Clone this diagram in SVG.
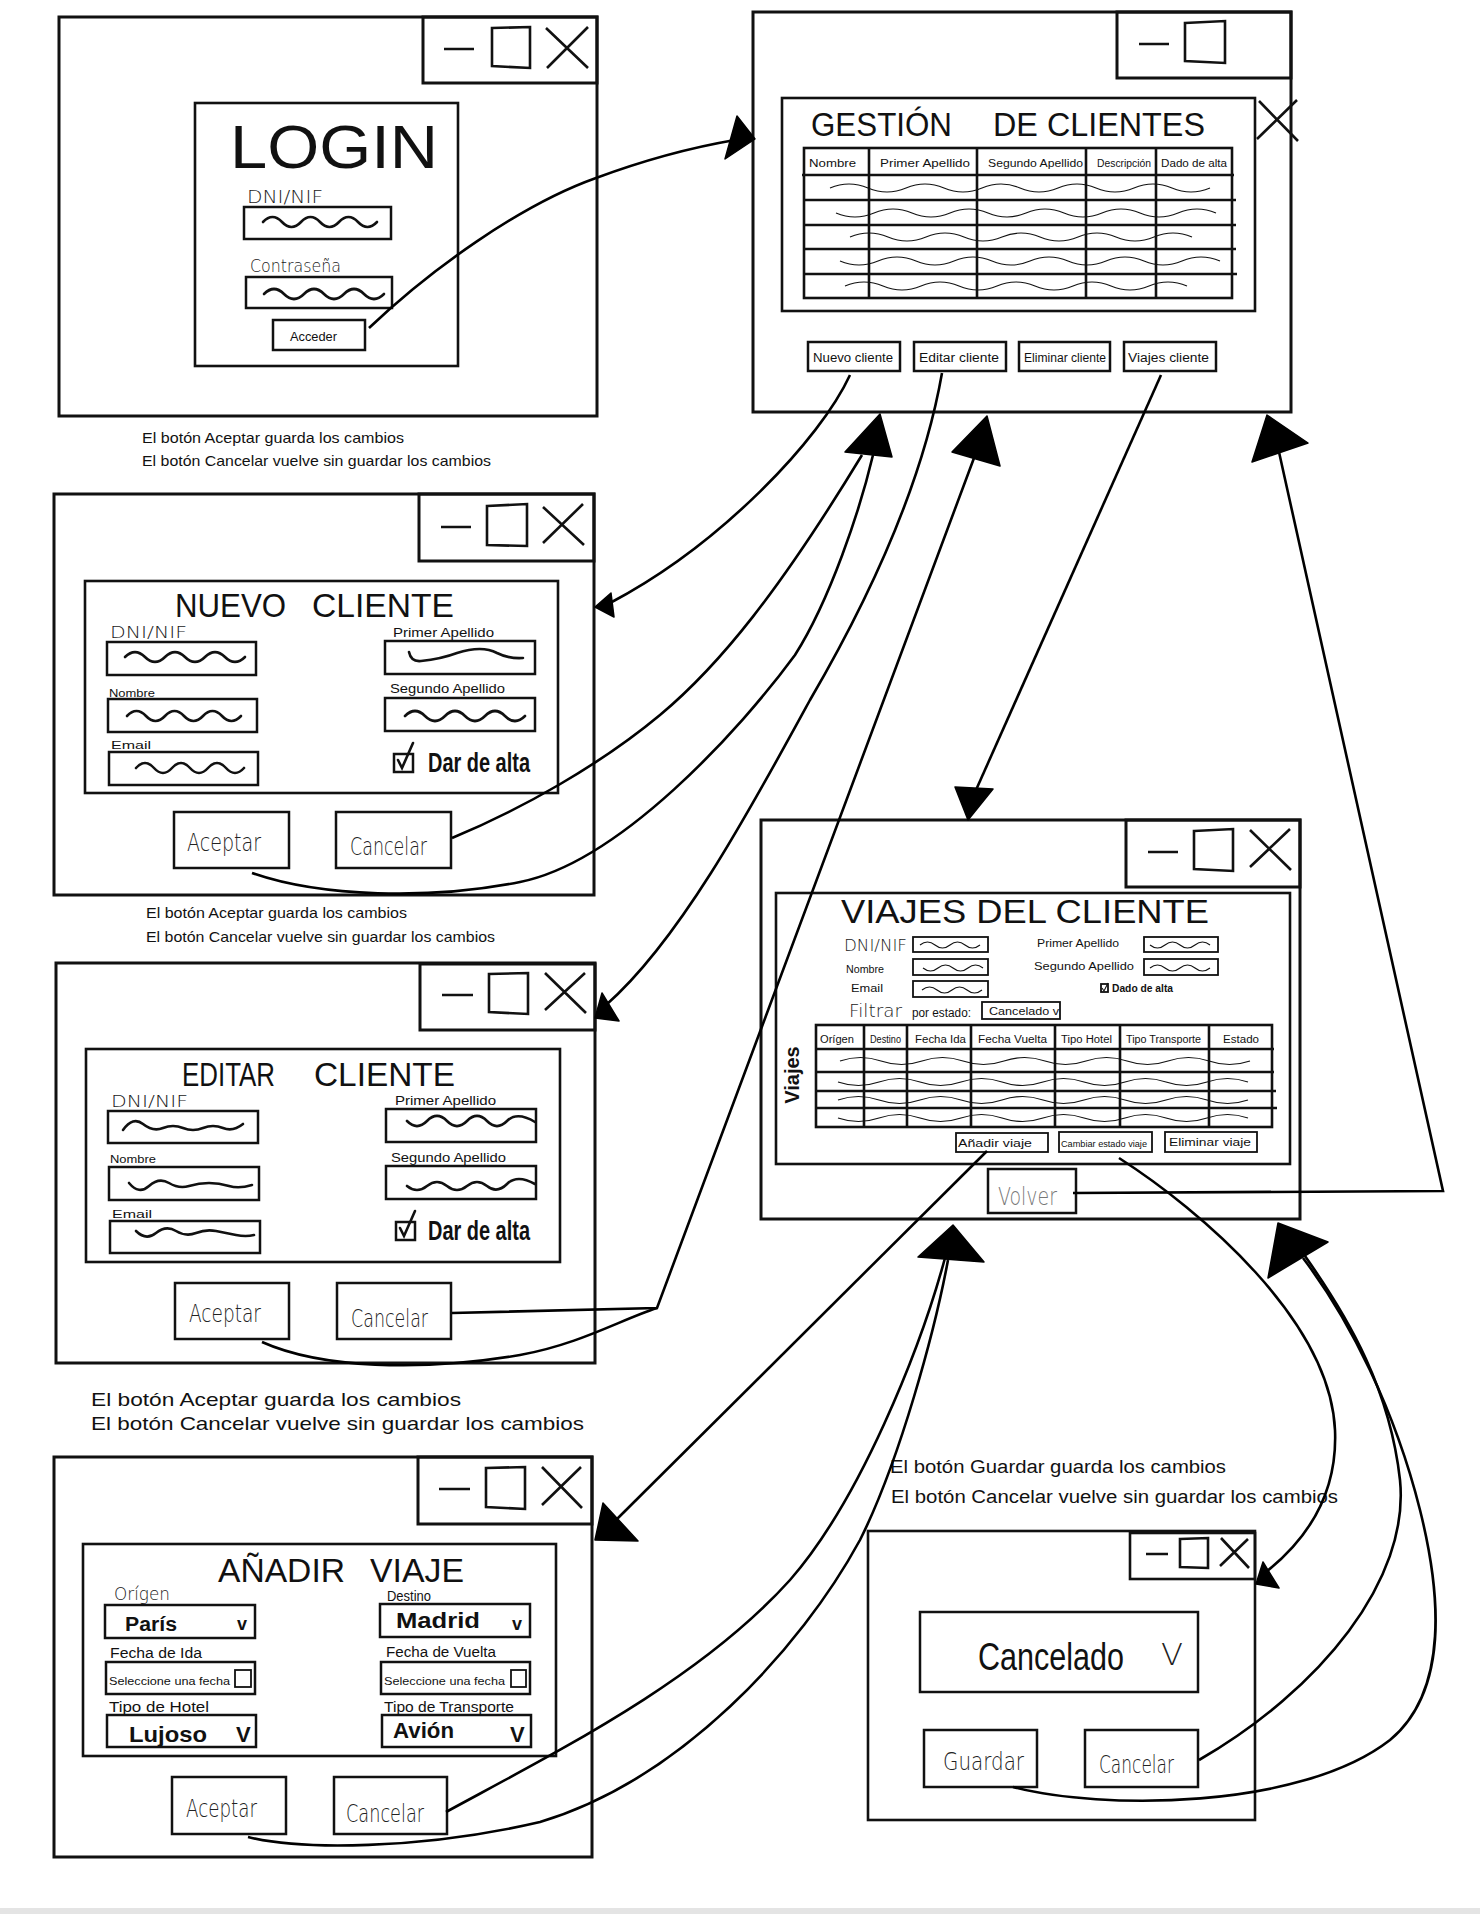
<svg xmlns="http://www.w3.org/2000/svg" width="1480" height="1914" viewBox="0 0 1480 1914">
<style>
.bg{fill:#fff}
.win{fill:none;stroke:#111;stroke-width:3}
.box{fill:none;stroke:#111;stroke-width:2.6}
.fld{fill:none;stroke:#111;stroke-width:2.5}
.fs{fill:none;stroke:#111;stroke-width:1.8}
.ctl{fill:none;stroke:#111;stroke-width:2.6}
.sq{fill:none;stroke:#111;stroke-width:2.6;stroke-linecap:round}
.sqt{fill:none;stroke:#111;stroke-width:1.1}
.grid{fill:none;stroke:#111;stroke-width:2.6}
.cn{fill:none;stroke:#000;stroke-width:2.6}
.ah{fill:#000;stroke:#000;stroke-width:1.5;stroke-linejoin:round}
text{font-family:"Liberation Sans",Arial,sans-serif;fill:#111}
.ttl{font-size:33px}
.h{font-family:"DejaVu Sans",sans-serif;font-weight:200;fill:#222}
.b{font-weight:bold}
</style>
<rect class="bg" width="1480" height="1914"/>
<rect x="0" y="1908" width="1480" height="6" fill="#e4e4e4"/>

<g id="login">
<rect class="win" x="59" y="17" width="538" height="399"/>
<rect class="win" x="423" y="17" width="174" height="66"/>
<path class="ctl" d="M444,49 H474 M492,28 L530,27 L530,68 L492,66 Z M546,28 L588,68 M588,27 L547,68"/>
<rect class="box" x="195" y="103" width="263" height="263"/>
<text x="230" y="168" font-size="62" textLength="208" lengthAdjust="spacingAndGlyphs">LOGIN</text>
<text class="h" x="247" y="203" font-size="17" textLength="76" lengthAdjust="spacingAndGlyphs">DNI/NIF</text>
<rect class="fld" x="244" y="207" width="147" height="32"/>
<path class="sq" d="M263,222 q9.5,-10 19,0 t19,0 t19,0 t19,0 t19,0 t19,0"/>
<text class="h" x="250" y="272" font-size="17" textLength="91" lengthAdjust="spacingAndGlyphs">Contraseña</text>
<rect class="fld" x="246" y="277" width="146" height="31"/>
<path class="sq" d="M264,294 q10,-10 20,0 t20,0 t20,0 t20,0 t20,0 t20,0"/>
<rect class="fld" x="273" y="320" width="92" height="30"/>
<text x="290" y="341" font-size="13" textLength="47" lengthAdjust="spacingAndGlyphs">Acceder</text>
<text x="142" y="443" font-size="15" textLength="262" lengthAdjust="spacingAndGlyphs">El botón Aceptar guarda los cambios</text>
<text x="142" y="466" font-size="15" textLength="349" lengthAdjust="spacingAndGlyphs">El botón Cancelar vuelve sin guardar los cambios</text>
</g>

<g id="gestion">
<rect class="win" x="753" y="12" width="538" height="400"/>
<rect class="win" x="1117" y="12" width="174" height="66"/>
<path class="ctl" d="M1139,44 H1169 M1185,23 L1225,21 L1225,63 L1185,61 Z M1259,101 L1298,141 M1297,100 L1257,139"/>
<rect class="box" x="782" y="98" width="473" height="213"/>
<text class="ttl" x="811" y="136" font-size="35" textLength="141" lengthAdjust="spacingAndGlyphs">GESTIÓN</text>
<text class="ttl" x="993" y="136" font-size="35" textLength="212" lengthAdjust="spacingAndGlyphs">DE CLIENTES</text>
<rect class="grid" x="804" y="148" width="428" height="150"/>
<path class="grid" d="M869,148 V298 M977,148 V298 M1086,148 V298 M1156,148 V298 M802,175 H1234 M804,200 H1236 M804,225 H1236 M804,249 H1236 M804,274 H1237"/>
<g font-size="11">
<text x="809" y="167" textLength="47" lengthAdjust="spacingAndGlyphs">Nombre</text>
<text x="880" y="167" textLength="90" lengthAdjust="spacingAndGlyphs">Primer  Apellido</text>
<text x="988" y="167" textLength="95" lengthAdjust="spacingAndGlyphs">Segundo Apellido</text>
<text x="1097" y="167" textLength="54" lengthAdjust="spacingAndGlyphs">Descripción</text>
<text x="1161" y="167" textLength="66" lengthAdjust="spacingAndGlyphs">Dado de alta</text>
</g>
<path class="sqt" d="M830,188 q19,-8 38,0 t38,0 t38,0 t38,0 t38,0 t38,0 t38,0 t38,0 t38,0 t38,0"/>
<path class="sqt" d="M836,213 q19,8 38,0 t38,0 t38,0 t38,0 t38,0 t38,0 t38,0 t38,0 t38,0 t38,0"/>
<path class="sqt" d="M850,237 q19,-8 38,0 t38,0 t38,0 t38,0 t38,0 t38,0 t38,0 t38,0 t38,0"/>
<path class="sqt" d="M840,261 q19,8 38,0 t38,0 t38,0 t38,0 t38,0 t38,0 t38,0 t38,0 t38,0 t38,0"/>
<path class="sqt" d="M845,286 q19,-8 38,0 t38,0 t38,0 t38,0 t38,0 t38,0 t38,0 t38,0 t38,0"/>
<rect class="fld" x="808" y="342" width="92" height="29"/>
<rect class="fld" x="914" y="342" width="92" height="29"/>
<rect class="fld" x="1019" y="342" width="91" height="29"/>
<rect class="fld" x="1124" y="342" width="92" height="29"/>
<g font-size="12">
<text x="813" y="362" textLength="80" lengthAdjust="spacingAndGlyphs">Nuevo cliente</text>
<text x="919" y="362" textLength="80" lengthAdjust="spacingAndGlyphs">Editar cliente</text>
<text x="1024" y="362" textLength="82" lengthAdjust="spacingAndGlyphs">Eliminar cliente</text>
<text x="1128" y="362" textLength="81" lengthAdjust="spacingAndGlyphs">Viajes cliente</text>
</g>
</g>

<g id="nuevo-cliente">
<rect class="win" x="54" y="494" width="540" height="401"/>
<rect class="win" x="419" y="494" width="175" height="67"/>
<path class="ctl" d="M441,527 H471 M487,506 L527,504 L527,546 L487,545 Z M543,507 L584,545 M583,504 L543,543"/>
<rect class="box" x="85" y="581" width="473" height="212"/>
<text class="ttl" x="175" y="617" textLength="111" lengthAdjust="spacingAndGlyphs">NUEVO</text>
<text class="ttl" x="312" y="617" textLength="142" lengthAdjust="spacingAndGlyphs">CLIENTE</text>
<text class="h" x="110" y="638" font-size="16" textLength="77" lengthAdjust="spacingAndGlyphs">DNI/NIF</text>
<rect class="fld" x="107" y="642" width="149" height="33"/>
<path class="sq" d="M125,657 q10,-10 20,0 t20,0 t20,0 t20,0 t20,0 t20,0"/>
<text x="109" y="697" font-size="11" textLength="46" lengthAdjust="spacingAndGlyphs">Nombre</text>
<rect class="fld" x="108" y="699" width="149" height="33"/>
<path class="sq" d="M127,716 q9.5,-10 19,0 t19,0 t19,0 t19,0 t19,0 t19,0"/>
<text x="111" y="749" font-size="11" textLength="40" lengthAdjust="spacingAndGlyphs">Email</text>
<rect class="fld" x="109" y="752" width="149" height="33"/>
<path class="sq" d="M136,768 q9,-10 18,0 t18,0 t18,0 t18,0 t18,0 t18,0"/>
<text x="393" y="637" font-size="13" textLength="101" lengthAdjust="spacingAndGlyphs">Primer Apellido</text>
<rect class="fld" x="385" y="641" width="150" height="33"/>
<path class="sq" d="M409,652 q2,10 12,9 q20,-2 36,-8 q25,-8 40,0 q12,6 26,5"/>
<text x="390" y="693" font-size="13" textLength="115" lengthAdjust="spacingAndGlyphs">Segundo Apellido</text>
<rect class="fld" x="385" y="698" width="150" height="33"/>
<path class="sq" d="M405,716 q10,-10 20,0 t20,0 t20,0 t20,0 t20,0 t20,0"/>
<rect class="fld" x="394" y="754" width="19" height="18"/>
<path class="sq" d="M398,760 L402,768 L413,743"/>
<text class="b" x="428" y="772" font-size="27" textLength="102" lengthAdjust="spacingAndGlyphs">Dar de alta</text>
<rect class="fld" x="174" y="812" width="115" height="56"/>
<text class="h" x="187" y="851" font-size="25" textLength="74" lengthAdjust="spacingAndGlyphs">Aceptar</text>
<rect class="fld" x="336" y="812" width="115" height="56"/>
<text class="h" x="350" y="855" font-size="25" textLength="77" lengthAdjust="spacingAndGlyphs">Cancelar</text>
<text x="146" y="918" font-size="15" textLength="261" lengthAdjust="spacingAndGlyphs">El botón Aceptar guarda los cambios</text>
<text x="146" y="942" font-size="15" textLength="349" lengthAdjust="spacingAndGlyphs">El botón Cancelar vuelve sin guardar los cambios</text>
</g>

<g id="editar-cliente">
<rect class="win" x="56" y="963" width="539" height="400"/>
<rect class="win" x="420" y="964" width="175" height="66"/>
<path class="ctl" d="M442,995 H473 M489,974 L528,973 L528,1014 L489,1012 Z M545,973 L586,1013 M585,973 L545,1010"/>
<rect class="box" x="86" y="1049" width="474" height="213"/>
<text class="ttl" x="182" y="1086" textLength="93" lengthAdjust="spacingAndGlyphs">EDITAR</text>
<text class="ttl" x="314" y="1086" textLength="141" lengthAdjust="spacingAndGlyphs">CLIENTE</text>
<text class="h" x="111" y="1107" font-size="16" textLength="77" lengthAdjust="spacingAndGlyphs">DNI/NIF</text>
<rect class="fld" x="108" y="1111" width="150" height="32"/>
<path class="sq" d="M123,1130 q10,-14 20,-6 t20,4 t20,0 t20,0 t20,0 t20,-4"/>
<text x="110" y="1163" font-size="11" textLength="46" lengthAdjust="spacingAndGlyphs">Nombre</text>
<rect class="fld" x="109" y="1167" width="150" height="33"/>
<path class="sq" d="M129,1183 q10,12 20,3 t20,-3 t20,3 t20,-3 t20,3 t23,-1"/>
<text x="112" y="1218" font-size="11" textLength="40" lengthAdjust="spacingAndGlyphs">Email</text>
<rect class="fld" x="110" y="1221" width="150" height="32"/>
<path class="sq" d="M136,1231 q10,10 20,2 t20,-2 t20,2 t20,-2 t20,4 t18,0"/>
<text x="395" y="1105" font-size="13" textLength="101" lengthAdjust="spacingAndGlyphs">Primer Apellido</text>
<rect class="fld" x="386" y="1109" width="150" height="33"/>
<path class="sq" d="M407,1121 q10,10 20,0 t20,0 t20,0 t20,0 t20,0 t28,1"/>
<text x="391" y="1162" font-size="13" textLength="115" lengthAdjust="spacingAndGlyphs">Segundo Apellido</text>
<rect class="fld" x="386" y="1166" width="150" height="33"/>
<path class="sq" d="M407,1186 q10,8 20,0 t20,0 t20,0 t20,0 t20,-2 t28,0"/>
<rect class="fld" x="396" y="1222" width="19" height="18"/>
<path class="sq" d="M400,1228 L404,1236 L415,1211"/>
<text class="b" x="428" y="1240" font-size="27" textLength="102" lengthAdjust="spacingAndGlyphs">Dar de alta</text>
<rect class="fld" x="175" y="1283" width="114" height="56"/>
<text class="h" x="189" y="1322" font-size="25" textLength="72" lengthAdjust="spacingAndGlyphs">Aceptar</text>
<rect class="fld" x="337" y="1283" width="114" height="56"/>
<text class="h" x="351" y="1327" font-size="25" textLength="77" lengthAdjust="spacingAndGlyphs">Cancelar</text>
<text x="91" y="1406" font-size="19" textLength="370" lengthAdjust="spacingAndGlyphs">El botón Aceptar guarda los cambios</text>
<text x="91" y="1430" font-size="19" textLength="493" lengthAdjust="spacingAndGlyphs">El botón Cancelar vuelve sin guardar los cambios</text>
</g>

<g id="viajes-cliente">
<rect class="win" x="761" y="820" width="539" height="399"/>
<rect class="win" x="1126" y="820" width="174" height="67"/>
<path class="ctl" d="M1148,852 H1178 M1194,831 L1233,829 L1233,871 L1194,869 Z M1250,830 L1291,870 M1290,829 L1250,867"/>
<rect class="box" x="776" y="893" width="514" height="271"/>
<text class="ttl" x="841" y="923" textLength="368" lengthAdjust="spacingAndGlyphs">VIAJES DEL CLIENTE</text>
<text class="h" x="844" y="951" font-size="15" textLength="63" lengthAdjust="spacingAndGlyphs">DNI/NIF</text>
<text x="846" y="973" font-size="10" textLength="38" lengthAdjust="spacingAndGlyphs">Nombre</text>
<text x="851" y="992" font-size="10" textLength="32" lengthAdjust="spacingAndGlyphs">Email</text>
<text x="1037" y="947" font-size="11" textLength="82" lengthAdjust="spacingAndGlyphs">Primer Apellido</text>
<text x="1034" y="970" font-size="11" textLength="100" lengthAdjust="spacingAndGlyphs">Segundo Apellido</text>
<rect class="fs" x="913" y="937" width="75" height="15"/>
<rect class="fs" x="913" y="959" width="75" height="16"/>
<rect class="fs" x="913" y="981" width="75" height="16"/>
<rect class="fs" x="1144" y="937" width="74" height="15"/>
<rect class="fs" x="1144" y="959" width="74" height="16"/>
<path class="sqt" d="M920,945 q7.5,-6 15,0 t15,0 t15,0 t15,0 M923,968 q7.5,6 15,0 t15,0 t15,0 t15,0 M922,990 q7.5,-6 15,0 t15,0 t15,0 t15,0 M1150,945 q7.5,6 15,0 t15,0 t15,0 t15,0 M1150,968 q7.5,-6 15,0 t15,0 t15,0 t15,0"/>
<rect class="fs" x="1101" y="984" width="7" height="8"/>
<path class="sqt" d="M1102,988 L1104,991 L1108,983"/>
<text class="b" x="1112" y="992" font-size="11" textLength="61" lengthAdjust="spacingAndGlyphs">Dado de alta</text>
<text class="h" x="849" y="1017" font-size="17" textLength="53" lengthAdjust="spacingAndGlyphs">Filtrar</text>
<text x="912" y="1017" font-size="12" textLength="59" lengthAdjust="spacingAndGlyphs">por estado:</text>
<rect class="fs" x="982" y="1002" width="78" height="17"/>
<text x="989" y="1015" font-size="11" textLength="70" lengthAdjust="spacingAndGlyphs">Cancelado v</text>
<rect class="grid" x="816" y="1025" width="456" height="102"/>
<path class="grid" d="M864,1025 V1127 M907,1025 V1127 M971,1025 V1127 M1055,1025 V1127 M1120,1025 V1127 M1209,1025 V1127 M816,1049 H1274 M816,1072 H1274 M816,1091 H1276 M816,1108 H1277"/>
<g font-size="10">
<text x="820" y="1043" textLength="34" lengthAdjust="spacingAndGlyphs">Orígen</text>
<text x="870" y="1043" textLength="31" lengthAdjust="spacingAndGlyphs">Destino</text>
<text x="915" y="1043" textLength="51" lengthAdjust="spacingAndGlyphs">Fecha Ida</text>
<text x="978" y="1043" textLength="69" lengthAdjust="spacingAndGlyphs">Fecha Vuelta</text>
<text x="1061" y="1043" textLength="51" lengthAdjust="spacingAndGlyphs">Tipo Hotel</text>
<text x="1126" y="1043" textLength="75" lengthAdjust="spacingAndGlyphs">Tipo Transporte</text>
<text x="1223" y="1043" textLength="36" lengthAdjust="spacingAndGlyphs">Estado</text>
</g>
<path class="sqt" d="M840,1061 q20.5,-7 41,0 t41,0 t41,0 t41,0 t41,0 t41,0 t41,0 t41,0 t41,0 t41,0"/>
<path class="sqt" d="M838,1082 q20.5,7 41,0 t41,0 t41,0 t41,0 t41,0 t41,0 t41,0 t41,0 t41,0 t41,0"/>
<path class="sqt" d="M838,1100 q20.5,-7 41,0 t41,0 t41,0 t41,0 t41,0 t41,0 t41,0 t41,0 t41,0 t41,0"/>
<path class="sqt" d="M838,1118 q20.5,7 41,0 t41,0 t41,0 t41,0 t41,0 t41,0 t41,0 t41,0 t41,0 t41,0"/>
<text class="b" transform="translate(799,1075) rotate(-90)" text-anchor="middle" font-size="20">Viajes</text>
<rect class="fs" x="956" y="1133" width="92" height="19"/>
<rect class="fs" x="1059" y="1132" width="93" height="20"/>
<rect class="fs" x="1165" y="1132" width="92" height="20"/>
<text x="958" y="1147" font-size="11" textLength="74" lengthAdjust="spacingAndGlyphs">Añadir viaje</text>
<text x="1061" y="1147" font-size="9" textLength="86" lengthAdjust="spacingAndGlyphs">Cambiar estado viaje</text>
<text x="1169" y="1146" font-size="11" textLength="82" lengthAdjust="spacingAndGlyphs">Eliminar viaje</text>
<rect class="fld" x="988" y="1169" width="88" height="44"/>
<text class="h" x="998" y="1205" font-size="24" fill="#777" style="fill:#777" textLength="59" lengthAdjust="spacingAndGlyphs">Volver</text>
</g>

<g id="anadir-viaje">
<rect class="win" x="54" y="1457" width="538" height="400"/>
<rect class="win" x="418" y="1457" width="174" height="67"/>
<path class="ctl" d="M439,1489 H470 M486,1468 L525,1467 L525,1509 L486,1507 Z M542,1467 L582,1508 M581,1467 L542,1505"/>
<rect class="box" x="83" y="1544" width="473" height="212"/>
<text class="ttl" x="218" y="1582" textLength="127" lengthAdjust="spacingAndGlyphs">AÑADIR</text>
<text class="ttl" x="370" y="1582" textLength="94" lengthAdjust="spacingAndGlyphs">VIAJE</text>
<text class="h" x="114" y="1600" font-size="18" textLength="56" lengthAdjust="spacingAndGlyphs">Orígen</text>
<rect class="fld" x="105" y="1605" width="150" height="33"/>
<text class="b" x="125" y="1631" font-size="20" textLength="52" lengthAdjust="spacingAndGlyphs">París</text>
<text class="b" x="237" y="1630" font-size="18">v</text>
<text x="387" y="1601" font-size="14" textLength="44" lengthAdjust="spacingAndGlyphs">Destino</text>
<rect class="fld" x="380" y="1604" width="150" height="33"/>
<text class="b" x="396" y="1628" font-size="22" textLength="84" lengthAdjust="spacingAndGlyphs">Madrid</text>
<text class="b" x="512" y="1630" font-size="18">v</text>
<text x="110" y="1658" font-size="14" textLength="92" lengthAdjust="spacingAndGlyphs">Fecha de Ida</text>
<rect class="fld" x="106" y="1662" width="149" height="32"/>
<text x="109" y="1685" font-size="11" textLength="121" lengthAdjust="spacingAndGlyphs">Seleccione una fecha</text>
<rect class="fs" x="235" y="1670" width="16" height="17"/>
<text x="386" y="1657" font-size="14" textLength="110" lengthAdjust="spacingAndGlyphs">Fecha de Vuelta</text>
<rect class="fld" x="381" y="1662" width="149" height="32"/>
<text x="384" y="1685" font-size="11" textLength="121" lengthAdjust="spacingAndGlyphs">Seleccione una fecha</text>
<rect class="fs" x="511" y="1670" width="15" height="17"/>
<text x="109" y="1712" font-size="14" textLength="100" lengthAdjust="spacingAndGlyphs">Tipo de Hotel</text>
<rect class="fld" x="107" y="1715" width="149" height="32"/>
<text class="b" x="129" y="1742" font-size="22" textLength="78" lengthAdjust="spacingAndGlyphs">Lujoso</text>
<text class="b" x="236" y="1742" font-size="22">V</text>
<text x="384" y="1712" font-size="14" textLength="130" lengthAdjust="spacingAndGlyphs">Tipo de Transporte</text>
<rect class="fld" x="382" y="1715" width="149" height="32"/>
<text class="b" x="393" y="1738" font-size="22" textLength="61" lengthAdjust="spacingAndGlyphs">Avión</text>
<text class="b" x="510" y="1742" font-size="22">V</text>
<rect class="fld" x="172" y="1777" width="114" height="57"/>
<text class="h" x="186" y="1817" font-size="25" textLength="71" lengthAdjust="spacingAndGlyphs">Aceptar</text>
<rect class="fld" x="334" y="1777" width="113" height="57"/>
<text class="h" x="346" y="1822" font-size="25" textLength="78" lengthAdjust="spacingAndGlyphs">Cancelar</text>
</g>

<g id="cambiar-estado">
<text x="890" y="1473" font-size="18" textLength="336" lengthAdjust="spacingAndGlyphs">El botón Guardar guarda los cambios</text>
<text x="891" y="1503" font-size="18" textLength="447" lengthAdjust="spacingAndGlyphs">El botón Cancelar vuelve sin guardar los cambios</text>
<rect class="box" x="868" y="1531" width="387" height="289"/>
<rect class="box" x="1130" y="1533" width="125" height="46"/>
<path class="ctl" d="M1146,1554 H1168 M1180,1539 L1208,1538 L1208,1568 L1180,1567 Z M1221,1538 L1249,1568 M1248,1539 L1220,1566"/>
<rect class="fld" x="920" y="1612" width="278" height="80"/>
<text x="978" y="1670" font-size="38" textLength="146" lengthAdjust="spacingAndGlyphs">Cancelado</text>
<text class="h" x="1161" y="1665" font-size="30" textLength="22" lengthAdjust="spacingAndGlyphs">V</text>
<rect class="fld" x="924" y="1730" width="113" height="57"/>
<text class="h" x="943" y="1770" font-size="24" textLength="81" lengthAdjust="spacingAndGlyphs">Guardar</text>
<rect class="fld" x="1085" y="1730" width="113" height="57"/>
<text class="h" x="1099" y="1773" font-size="24" textLength="75" lengthAdjust="spacingAndGlyphs">Cancelar</text>
</g>

<g id="connectors">
<path class="cn" d="M369,328 C430,270 520,205 596,178 C650,158 700,146 735,140"/>
<polygon class="ah" points="755,139 737,116 725,159"/>
<path class="cn" d="M850,375 C820,440 720,545 610,603"/>
<polygon class="ah" points="595,607 611,593 614,617"/>
<path class="cn" d="M452,838 C520,810 600,765 660,715 C720,665 780,590 862,455"/>
<path class="cn" d="M252,873 C320,897 430,900 520,882 C620,862 740,730 795,655 C830,600 860,510 873,455"/>
<polygon class="ah" points="880,414 845,452 892,457"/>
<path class="cn" d="M942,373 C925,470 880,580 810,700 C750,810 680,940 606,1005"/>
<polygon class="ah" points="595,1018 602,993 619,1021"/>
<path class="cn" d="M452,1313 L657,1308 L974,458"/>
<path class="cn" d="M262,1342 C320,1368 420,1372 520,1355 C580,1344 620,1320 657,1308"/>
<polygon class="ah" points="987,416 952,452 1000,466"/>
<path class="cn" d="M1161,375 L976,790"/>
<polygon class="ah" points="968,820 955,787 993,789"/>
<path class="cn" d="M1073,1193 L1443,1191 L1279,452"/>
<polygon class="ah" points="1267,415 1252,462 1308,443"/>
<path class="cn" d="M987,1151 L613,1523"/>
<polygon class="ah" points="595,1540 603,1503 638,1541"/>
<path class="cn" d="M446,1812 C560,1750 700,1680 790,1580 C860,1500 920,1350 945,1258"/>
<path class="cn" d="M248,1837 C300,1850 420,1850 540,1822 C680,1780 800,1650 860,1540 C900,1460 935,1330 948,1260"/>
<polygon class="ah" points="953,1225 918,1257 984,1262"/>
<path class="cn" d="M1119,1158 C1200,1210 1330,1320 1335,1430 C1338,1500 1300,1545 1266,1572"/>
<polygon class="ah" points="1263,1562 1256,1584 1279,1588"/>
<path class="cn" d="M1199,1760 C1320,1690 1410,1580 1400,1480 C1390,1390 1350,1320 1305,1256"/>
<path class="cn" d="M1013,1787 C1100,1810 1300,1810 1390,1740 C1450,1690 1440,1590 1420,1510 C1395,1410 1350,1320 1303,1258"/>
<polygon class="ah" points="1278,1223 1268,1278 1328,1242"/>
</g>
</svg>
